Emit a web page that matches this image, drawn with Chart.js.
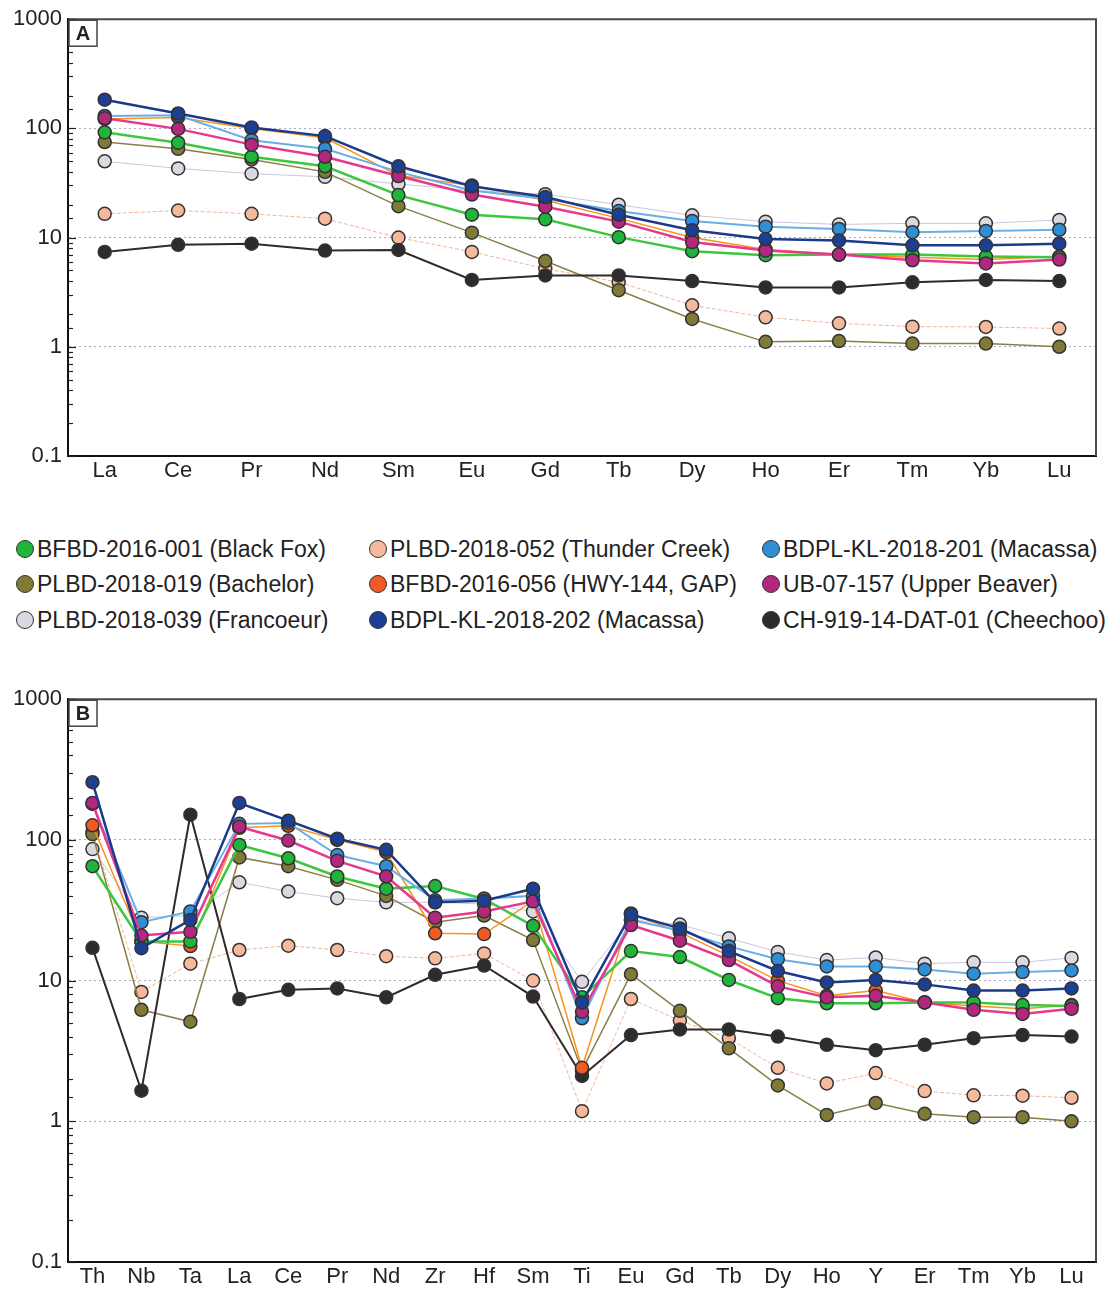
<!DOCTYPE html>
<html>
<head>
<meta charset="utf-8">
<script src="https://cdn.jsdelivr.net/npm/chart.js@4.4.1/dist/chart.umd.min.js"></script>
<style>
  body { margin: 0; background: #fff; width: 1110px; height: 1289px; position: relative; overflow: hidden; font-family: "Liberation Sans", Arial, sans-serif; }
  canvas { position: absolute; left: 0; }
  #chartA { top: 0; }
  #chartB { top: 680px; }
  .item { position: absolute; height: 28px; line-height: 28px; display: flex; align-items: center; font-size: 23px; color: #222; white-space: nowrap; }
  .dot { width: 18px; height: 18px; border-radius: 50%; border: 1.5px solid #333; box-sizing: border-box; margin-right: 3px; }
</style>
</head>
<body>
<canvas id="chartA" width="1110" height="492"></canvas>
<div id="legend"></div>
<canvas id="chartB" width="1110" height="609"></canvas>
<script>
// element order of the spider diagram (B); A uses the REE subset
const elementsB = ['Th','Nb','Ta','La','Ce','Pr','Nd','Zr','Hf','Sm','Ti','Eu','Gd','Tb','Dy','Ho','Y','Er','Tm','Yb','Lu'];
const elementsA = ['La','Ce','Pr','Nd','Sm','Eu','Gd','Tb','Dy','Ho','Er','Tm','Yb','Lu'];
const yTicks = [0.1, 1, 10, 100, 1000];

// normalized values, one per element of elementsB
const blackFox     = [65, 19, 19, 92, 74, 55, 45, 47, 38, 24.5, 7.6, 16.2, 14.7, 10.1, 7.5, 6.9, 6.9, 7.0, 7.0, 6.7, 6.6];
const bachelor     = [110, 6.2, 5.1, 75, 65, 52, 40, 26, 29, 19.4, 2.3, 11.1, 6.1, 3.3, 1.8, 1.11, 1.35, 1.13, 1.07, 1.07, 1.0];
const francoeur    = [86, 28, 29, 50, 43, 38.5, 36, 36, 35, 31, 9.8, 27, 25, 20, 16, 14, 14.6, 13.2, 13.5, 13.5, 14.5];
const thunderCreek = [114, 8.3, 13.2, 16.5, 17.7, 16.5, 14.9, 14.4, 15.6, 10, 1.18, 7.4, 5.2, 3.9, 2.4, 1.86, 2.2, 1.64, 1.53, 1.52, 1.47];
const hwy144       = [127, 19, 17.6, 122, 126, 100, 82, 21.7, 21.4, 37, 2.4, 30, 22, 15, 10, 7.8, 8.5, 7.0, 6.6, 6.3, 6.7];
const macassa202   = [257, 17, 27, 183, 137, 102, 85, 36, 37, 45, 7, 29.5, 23.5, 16.2, 11.7, 9.7, 10.1, 9.4, 8.5, 8.5, 8.8];
const macassa201   = [180, 26, 31, 130, 132, 78, 65, 37.3, 38.4, 40, 5.4, 27, 22.7, 17.5, 14.2, 12.6, 12.6, 12.0, 11.2, 11.5, 11.8];
const upperBeaver  = [183, 20.9, 22.2, 124, 99, 71, 55, 28, 31, 36.6, 6.0, 24.8, 19.2, 14, 9.1, 7.6, 7.8, 7.0, 6.2, 5.8, 6.3];
const cheechoo     = [17.1, 1.65, 151, 7.4, 8.6, 8.8, 7.6, 11, 12.8, 7.7, 2.1, 4.1, 4.5, 4.5, 4.0, 3.5, 3.2, 3.5, 3.9, 4.1, 4.0];

const seriesLabels = [
  'BFBD-2016-001 (Black Fox)', 'PLBD-2018-019 (Bachelor)', 'PLBD-2018-039 (Francoeur)',
  'PLBD-2018-052 (Thunder Creek)', 'BFBD-2016-056 (HWY-144, GAP)', 'BDPL-KL-2018-202 (Macassa)',
  'BDPL-KL-2018-201 (Macassa)', 'UB-07-157 (Upper Beaver)', 'CH-919-14-DAT-01 (Cheechoo)'
];
const seriesValues = [blackFox, bachelor, francoeur, thunderCreek, hwy144, macassa202, macassa201, upperBeaver, cheechoo];

// styling per series (same order as labels)
const fillColors = ['#1fb53a', '#7f7a35', '#dcd8e2', '#f7b99c', '#f15a24', '#1c3f94', '#2e8fd6', '#b3287e', '#2e2b2d'];
const lineColors = ['#3cc83e', '#8a7f45', '#c9c6dc', '#f3b49a', '#f7931e', '#1c3a8a', '#6aaee6', '#e8388e', '#2e2b2d'];
const lineWidths = [2.5, 1.5, 1, 1, 1.5, 2.5, 2, 2.5, 2];
const drawOrder  = [3, 6, 7, 8, 4, 0, 2, 1, 5];

function isDecade(v) {
  const l = Math.log10(v);
  return Math.abs(l - Math.round(l)) < 1e-6;
}

const framePlugin = {
  id: 'frame',
  beforeDatasetsDraw(chart) {
    const { ctx, chartArea: a } = chart;
    const y = chart.scales.y;
    ctx.save();
    ctx.strokeStyle = '#4a4a4a';
    ctx.lineWidth = 2;
    ctx.beginPath();
    ctx.moveTo(a.left, a.top);
    ctx.lineTo(a.right, a.top);
    ctx.lineTo(a.right, a.bottom);
    ctx.stroke();
    // small inward tick marks on the log axis
    ctx.strokeStyle = '#222';
    ctx.lineWidth = 1.2;
    y.ticks.forEach(t => {
      const py = Math.round(y.getPixelForValue(t.value)) + 0.5;
      const len = isDecade(t.value) ? 8 : 5;
      ctx.beginPath();
      ctx.moveTo(a.left, py);
      ctx.lineTo(a.left + len, py);
      ctx.stroke();
    });
    ctx.restore();
  },
  afterDraw(chart, args, opts) {
    const { ctx, chartArea: a } = chart;
    ctx.save();
    ctx.fillStyle = '#fff';
    ctx.fillRect(a.left + 1, a.top + 1, 28, 26);
    ctx.strokeStyle = '#444';
    ctx.lineWidth = 1.5;
    ctx.strokeRect(a.left + 1, a.top + 1, 28, 26);
    ctx.fillStyle = '#222';
    ctx.font = 'bold 20px "Liberation Sans", Arial, sans-serif';
    ctx.textAlign = 'center';
    ctx.textBaseline = 'middle';
    ctx.fillText(opts.letter, a.left + 15, a.top + 15);
    ctx.restore();
  }
};

function makeChart(id, labels, pick, letter, padTop, xHeight) {
  const datasets = seriesValues.map((vals, i) => ({
    label: seriesLabels[i],
    data: pick(vals),
    borderColor: lineColors[i],
    borderWidth: lineWidths[i],
    borderDash: i === 3 ? [4, 2] : [],
    backgroundColor: fillColors[i],
    pointBackgroundColor: fillColors[i],
    pointBorderColor: '#333',
    pointBorderWidth: 1.5,
    pointRadius: 6.5,
    tension: 0,
    order: drawOrder[i]
  }));
  return new Chart(document.getElementById(id), {
    type: 'line',
    data: { labels: labels, datasets: datasets },
    plugins: [framePlugin],
    options: {
      responsive: false,
      animation: false,
      layout: { padding: { top: padTop, right: 14, left: 0, bottom: 0 } },
      plugins: {
        legend: { display: false },
        tooltip: { enabled: false },
        frame: { letter: letter }
      },
      scales: {
        x: {
          offset: true,
          grid: { display: false, drawTicks: false },
          border: { display: true, color: '#111', width: 2 },
          ticks: { color: '#222', padding: 2, font: { size: 22, family: '"Liberation Sans", Arial, sans-serif' } },
          afterFit(s) { s.height = xHeight; }
        },
        y: {
          type: 'logarithmic',
          min: 0.1,
          max: 1000,
          border: { display: true, color: '#111', width: 2, dash: [2, 3] },
          grid: {
            drawTicks: false,
            lineWidth: 1,
            color: c => (c.tick && isDecade(c.tick.value) && c.tick.value > 0.1 && c.tick.value < 1000) ? 'rgba(140,140,170,0.75)' : 'rgba(0,0,0,0)'
          },
          ticks: {
            autoSkip: false,
            padding: 6,
            color: '#222',
            font: { size: 22, family: '"Liberation Sans", Arial, sans-serif' },
            callback: v => yTicks.includes(Number(v.toPrecision(6))) ? String(Number(v.toPrecision(6))) : ''
          },
          afterFit(s) { s.width = 68; }
        }
      }
    }
  });
}

const chartA = makeChart('chartA', elementsA, vals => elementsA.map(e => vals[elementsB.indexOf(e)]), 'A', 16, 36);
const chartB = makeChart('chartB', elementsB, vals => vals.slice(), 'B', 17, 27);

// legend in three columns (column-major)
const legendCols = [25, 378, 771];
const legendRows = [549, 584, 620];
const legend = document.getElementById('legend');
seriesLabels.forEach((lab, i) => {
  const item = document.createElement('div');
  item.className = 'item';
  item.style.left = (legendCols[Math.floor(i / 3)] - 9) + 'px';
  item.style.top = (legendRows[i % 3] - 14) + 'px';
  const dot = document.createElement('span');
  dot.className = 'dot';
  dot.style.background = fillColors[i];
  const txt = document.createElement('span');
  txt.textContent = lab;
  item.appendChild(dot);
  item.appendChild(txt);
  legend.appendChild(item);
});
</script>
</body>
</html>
